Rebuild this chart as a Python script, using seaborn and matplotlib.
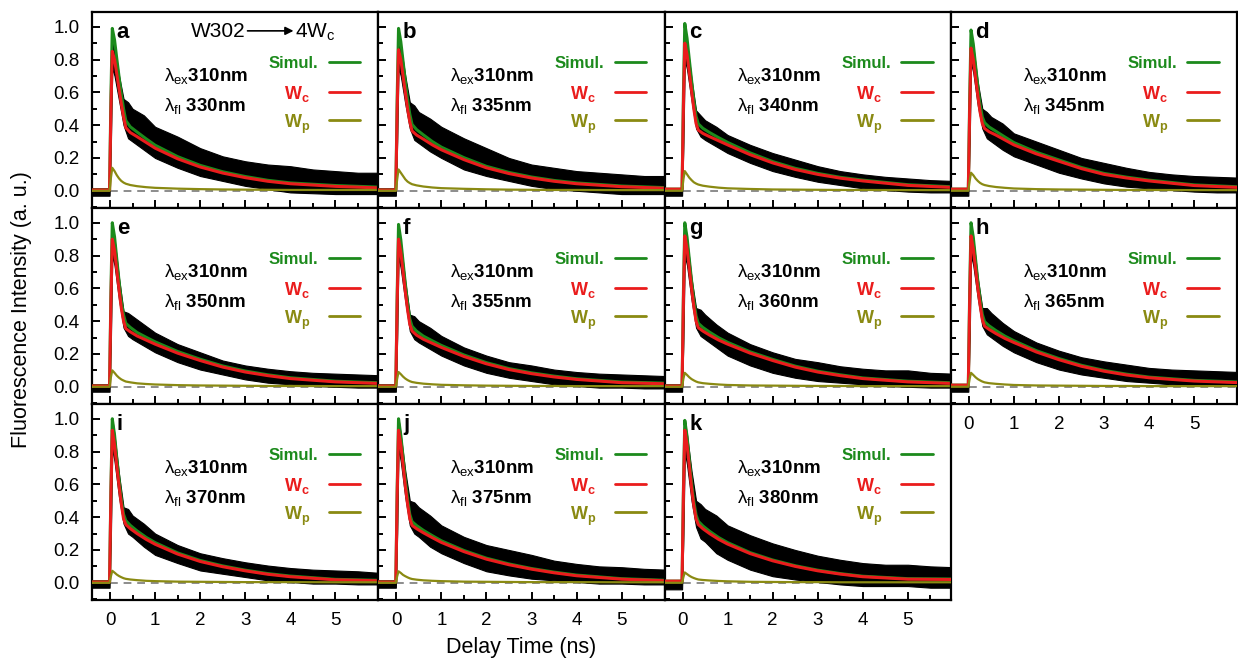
import matplotlib
matplotlib.use("Agg")
import matplotlib.pyplot as plt
from matplotlib.ticker import MultipleLocator
import seaborn as sns

sns.set_theme(style="ticks")
plt.rcParams.update({
    'mathtext.fontset': 'custom',
    'mathtext.rm': 'Liberation Sans',
    'mathtext.bf': 'Liberation Sans:bold',
    'mathtext.it': 'Liberation Sans:italic',
    'axes.linewidth': 1.6,
    'axes.edgecolor': 'black',
    'text.color': 'black',
    'axes.labelcolor': 'black',
})
plt.rcParams['font.family'] = ['Liberation Sans', 'DejaVu Sans']

GREEN = '#1c8a1c'
RED = '#ea1c1c'
OLIVE = '#8a8a12'

PANELS = ['a', 'b', 'c', 'd', 'e', 'f', 'g', 'h', 'i', 'j', 'k']
EMISSION = ['330', '335', '340', '345', '350', '355', '360', '365', '370', '375', '380']

# time grid of the fitted curves (ns)
T = [-0.45, -0.01, 0.02, 0.05, 0.1, 0.15, 0.2, 0.25, 0.3, 0.35, 0.45, 0.6,
     0.8, 1.0, 1.5, 2.0, 2.5, 3.0, 3.5, 4.0, 5.0, 6.0]

# Wc component (red)
WC = {
    'a': [0.005, 0.005, 0.50, 0.85, 0.80, 0.71, 0.62, 0.53, 0.45, 0.385, 0.355, 0.33, 0.295, 0.26, 0.195, 0.145, 0.108, 0.08, 0.058, 0.043, 0.027, 0.017],
    'b': [0.005, 0.005, 0.50, 0.86, 0.80, 0.70, 0.60, 0.50, 0.42, 0.365, 0.34, 0.315, 0.28, 0.25, 0.19, 0.14, 0.105, 0.078, 0.058, 0.043, 0.025, 0.015],
    'c': [0.01, 0.01, 0.52, 0.90, 0.83, 0.72, 0.61, 0.50, 0.41, 0.37, 0.35, 0.33, 0.305, 0.28, 0.22, 0.17, 0.13, 0.10, 0.077, 0.06, 0.033, 0.02],
    'd': [0.01, 0.01, 0.50, 0.87, 0.80, 0.69, 0.58, 0.48, 0.41, 0.38, 0.36, 0.34, 0.31, 0.28, 0.225, 0.18, 0.135, 0.10, 0.078, 0.06, 0.032, 0.02],
    'e': [0.005, 0.005, 0.52, 0.90, 0.83, 0.71, 0.59, 0.48, 0.40, 0.355, 0.335, 0.31, 0.285, 0.26, 0.205, 0.16, 0.12, 0.09, 0.068, 0.05, 0.03, 0.02],
    'f': [0.005, 0.005, 0.52, 0.90, 0.82, 0.70, 0.58, 0.47, 0.38, 0.34, 0.315, 0.29, 0.265, 0.24, 0.185, 0.14, 0.105, 0.08, 0.06, 0.045, 0.025, 0.018],
    'g': [0.005, 0.005, 0.53, 0.92, 0.84, 0.72, 0.60, 0.49, 0.40, 0.36, 0.34, 0.315, 0.285, 0.26, 0.205, 0.16, 0.12, 0.09, 0.068, 0.05, 0.03, 0.02],
    'h': [0.01, 0.01, 0.53, 0.92, 0.84, 0.72, 0.60, 0.50, 0.41, 0.37, 0.35, 0.325, 0.295, 0.27, 0.212, 0.165, 0.125, 0.095, 0.072, 0.055, 0.035, 0.025],
    'i': [0.005, 0.005, 0.54, 0.93, 0.84, 0.71, 0.59, 0.48, 0.39, 0.355, 0.33, 0.30, 0.265, 0.235, 0.175, 0.13, 0.098, 0.073, 0.052, 0.037, 0.018, 0.012],
    'j': [0.005, 0.005, 0.54, 0.93, 0.84, 0.72, 0.59, 0.48, 0.39, 0.35, 0.33, 0.305, 0.275, 0.246, 0.19, 0.144, 0.11, 0.083, 0.061, 0.043, 0.022, 0.012],
    'k': [0.01, 0.01, 0.54, 0.93, 0.84, 0.71, 0.58, 0.47, 0.39, 0.355, 0.33, 0.30, 0.265, 0.236, 0.178, 0.134, 0.10, 0.073, 0.053, 0.037, 0.022, 0.02],
}

# Wp component (olive)
WP = {
    'a': [0.0, 0.0, 0.08, 0.14, 0.12, 0.095, 0.075, 0.06, 0.05, 0.043, 0.035, 0.028, 0.022, 0.018, 0.013, 0.010, 0.008, 0.007, 0.006, 0.005, 0.005, 0.005],
    'b': [0.0, 0.0, 0.07, 0.13, 0.11, 0.09, 0.07, 0.056, 0.047, 0.04, 0.033, 0.026, 0.02, 0.016, 0.012, 0.009, 0.007, 0.006, 0.005, 0.005, 0.004, 0.004],
    'c': [0.0, 0.0, 0.07, 0.12, 0.10, 0.08, 0.065, 0.052, 0.044, 0.038, 0.031, 0.025, 0.019, 0.015, 0.011, 0.008, 0.007, 0.006, 0.005, 0.005, 0.004, 0.004],
    'd': [0.0, 0.0, 0.06, 0.11, 0.095, 0.075, 0.06, 0.048, 0.04, 0.035, 0.029, 0.023, 0.018, 0.014, 0.01, 0.008, 0.007, 0.006, 0.005, 0.005, 0.004, 0.004],
    'e': [0.0, 0.0, 0.06, 0.10, 0.085, 0.068, 0.055, 0.045, 0.038, 0.032, 0.027, 0.021, 0.017, 0.014, 0.01, 0.008, 0.007, 0.006, 0.005, 0.005, 0.004, 0.004],
    'f': [0.0, 0.0, 0.05, 0.09, 0.077, 0.062, 0.05, 0.041, 0.034, 0.029, 0.024, 0.019, 0.015, 0.012, 0.009, 0.007, 0.006, 0.005, 0.005, 0.004, 0.004, 0.004],
    'g': [0.0, 0.0, 0.05, 0.085, 0.072, 0.058, 0.047, 0.039, 0.032, 0.027, 0.022, 0.018, 0.014, 0.011, 0.008, 0.007, 0.006, 0.005, 0.005, 0.004, 0.004, 0.004],
    'h': [0.0, 0.0, 0.05, 0.085, 0.072, 0.058, 0.047, 0.039, 0.032, 0.027, 0.022, 0.018, 0.014, 0.011, 0.008, 0.007, 0.006, 0.005, 0.005, 0.004, 0.004, 0.004],
    'i': [0.0, 0.0, 0.04, 0.073, 0.062, 0.05, 0.041, 0.034, 0.028, 0.024, 0.02, 0.016, 0.012, 0.01, 0.007, 0.006, 0.005, 0.004, 0.004, 0.004, 0.003, 0.003],
    'j': [0.0, 0.0, 0.04, 0.07, 0.06, 0.048, 0.04, 0.033, 0.027, 0.023, 0.019, 0.015, 0.012, 0.01, 0.007, 0.006, 0.005, 0.004, 0.004, 0.004, 0.003, 0.003],
    'k': [0.0, 0.0, 0.035, 0.063, 0.053, 0.043, 0.035, 0.029, 0.024, 0.02, 0.017, 0.014, 0.011, 0.009, 0.006, 0.005, 0.004, 0.004, 0.003, 0.003, 0.003, 0.003],
}

# simulated total (green)
SIMUL = {
    'a': [0.005, 0.005, 0.58, 0.99, 0.92, 0.805, 0.695, 0.59, 0.50, 0.428, 0.39, 0.358, 0.317, 0.278, 0.208, 0.155, 0.116, 0.087, 0.064, 0.048, 0.032, 0.022],
    'b': [0.005, 0.005, 0.57, 0.99, 0.91, 0.79, 0.67, 0.556, 0.467, 0.405, 0.373, 0.341, 0.30, 0.266, 0.202, 0.149, 0.112, 0.084, 0.063, 0.048, 0.029, 0.019],
    'c': [0.01, 0.01, 0.59, 1.02, 0.93, 0.80, 0.675, 0.552, 0.454, 0.408, 0.381, 0.355, 0.324, 0.295, 0.231, 0.178, 0.137, 0.106, 0.082, 0.065, 0.037, 0.024],
    'd': [0.01, 0.01, 0.56, 0.98, 0.895, 0.765, 0.64, 0.528, 0.45, 0.415, 0.389, 0.363, 0.328, 0.294, 0.235, 0.188, 0.142, 0.106, 0.083, 0.065, 0.036, 0.024],
    'e': [0.005, 0.005, 0.58, 1.0, 0.915, 0.778, 0.645, 0.525, 0.438, 0.387, 0.362, 0.331, 0.302, 0.274, 0.215, 0.168, 0.127, 0.096, 0.073, 0.055, 0.034, 0.024],
    'f': [0.005, 0.005, 0.57, 0.99, 0.897, 0.762, 0.63, 0.511, 0.414, 0.369, 0.339, 0.309, 0.28, 0.252, 0.194, 0.147, 0.111, 0.085, 0.065, 0.049, 0.029, 0.022],
    'g': [0.005, 0.005, 0.58, 1.0, 0.912, 0.778, 0.647, 0.529, 0.432, 0.387, 0.362, 0.333, 0.299, 0.271, 0.213, 0.167, 0.126, 0.095, 0.073, 0.054, 0.034, 0.024],
    'h': [0.01, 0.01, 0.58, 1.0, 0.912, 0.778, 0.647, 0.539, 0.442, 0.397, 0.372, 0.343, 0.309, 0.281, 0.22, 0.172, 0.131, 0.1, 0.077, 0.059, 0.039, 0.029],
    'i': [0.005, 0.005, 0.58, 1.0, 0.902, 0.76, 0.631, 0.514, 0.418, 0.379, 0.35, 0.316, 0.277, 0.245, 0.182, 0.136, 0.103, 0.077, 0.056, 0.041, 0.021, 0.015],
    'j': [0.005, 0.005, 0.58, 1.0, 0.90, 0.768, 0.63, 0.513, 0.417, 0.373, 0.349, 0.32, 0.287, 0.256, 0.197, 0.15, 0.115, 0.087, 0.065, 0.047, 0.025, 0.015],
    'k': [0.01, 0.01, 0.575, 0.99, 0.893, 0.753, 0.615, 0.499, 0.414, 0.375, 0.347, 0.314, 0.276, 0.245, 0.184, 0.139, 0.104, 0.077, 0.056, 0.04, 0.025, 0.023],
}

# measured trace: upper / lower edge of the noise band
TD = [-0.45, -0.01, 0.02, 0.05, 0.1, 0.2, 0.3, 0.4, 0.5, 0.75, 1.0, 1.5, 2.0,
      2.5, 3.0, 3.5, 4.0, 4.5, 5.0, 5.5, 6.0]
DATA_HI = {
    'a': [0.015, 0.015, 0.55, 0.95, 0.88, 0.70, 0.56, 0.54, 0.50, 0.46, 0.39, 0.33, 0.26, 0.21, 0.18, 0.16, 0.15, 0.13, 0.12, 0.11, 0.11],
    'b': [0.015, 0.015, 0.55, 0.95, 0.88, 0.70, 0.54, 0.52, 0.48, 0.44, 0.39, 0.32, 0.26, 0.20, 0.16, 0.14, 0.12, 0.11, 0.10, 0.09, 0.09],
    'c': [0.015, 0.015, 0.55, 0.98, 0.90, 0.68, 0.49, 0.46, 0.43, 0.39, 0.34, 0.28, 0.23, 0.19, 0.15, 0.12, 0.10, 0.085, 0.075, 0.065, 0.06],
    'd': [0.015, 0.015, 0.55, 0.95, 0.88, 0.66, 0.50, 0.48, 0.45, 0.41, 0.35, 0.30, 0.25, 0.20, 0.17, 0.14, 0.115, 0.10, 0.09, 0.085, 0.08],
    'e': [0.015, 0.015, 0.55, 0.98, 0.90, 0.66, 0.46, 0.45, 0.43, 0.38, 0.33, 0.26, 0.21, 0.16, 0.13, 0.11, 0.095, 0.085, 0.08, 0.075, 0.07],
    'f': [0.015, 0.015, 0.55, 0.97, 0.88, 0.64, 0.44, 0.43, 0.40, 0.36, 0.31, 0.24, 0.19, 0.15, 0.13, 0.105, 0.09, 0.08, 0.075, 0.07, 0.065],
    'g': [0.015, 0.015, 0.55, 0.99, 0.90, 0.66, 0.48, 0.47, 0.44, 0.38, 0.33, 0.26, 0.21, 0.17, 0.15, 0.125, 0.11, 0.10, 0.10, 0.085, 0.08],
    'h': [0.015, 0.015, 0.55, 0.99, 0.90, 0.66, 0.48, 0.48, 0.45, 0.39, 0.34, 0.27, 0.22, 0.18, 0.155, 0.135, 0.115, 0.105, 0.10, 0.095, 0.09],
    'i': [0.015, 0.015, 0.56, 1.0, 0.90, 0.66, 0.46, 0.45, 0.41, 0.36, 0.30, 0.23, 0.18, 0.15, 0.125, 0.105, 0.09, 0.08, 0.075, 0.07, 0.06],
    'j': [0.015, 0.015, 0.56, 1.0, 0.90, 0.68, 0.50, 0.49, 0.46, 0.41, 0.35, 0.28, 0.23, 0.20, 0.17, 0.135, 0.115, 0.10, 0.095, 0.085, 0.08],
    'k': [0.015, 0.015, 0.56, 0.99, 0.90, 0.68, 0.50, 0.48, 0.45, 0.41, 0.35, 0.29, 0.24, 0.20, 0.165, 0.14, 0.12, 0.11, 0.11, 0.10, 0.095],
}
DATA_LO = {
    'a': [-0.03, -0.03, 0.30, 0.75, 0.70, 0.55, 0.40, 0.32, 0.30, 0.25, 0.20, 0.14, 0.09, 0.06, 0.03, 0.01, -0.01, -0.015, -0.02, -0.02, -0.02],
    'b': [-0.03, -0.03, 0.30, 0.75, 0.70, 0.53, 0.38, 0.31, 0.29, 0.24, 0.20, 0.13, 0.09, 0.06, 0.03, 0.01, 0.0, -0.01, -0.02, -0.02, -0.02],
    'c': [-0.03, -0.03, 0.30, 0.80, 0.74, 0.55, 0.38, 0.33, 0.31, 0.27, 0.23, 0.17, 0.12, 0.085, 0.055, 0.035, 0.015, 0.005, -0.005, -0.01, -0.01],
    'd': [-0.03, -0.03, 0.30, 0.78, 0.72, 0.52, 0.38, 0.32, 0.30, 0.25, 0.21, 0.16, 0.11, 0.075, 0.045, 0.025, 0.015, 0.005, -0.005, -0.01, -0.01],
    'e': [-0.03, -0.03, 0.30, 0.80, 0.74, 0.53, 0.36, 0.31, 0.29, 0.25, 0.21, 0.15, 0.105, 0.075, 0.045, 0.025, 0.015, 0.005, 0.0, -0.005, -0.005],
    'f': [-0.03, -0.03, 0.30, 0.80, 0.72, 0.52, 0.34, 0.29, 0.27, 0.23, 0.19, 0.13, 0.085, 0.055, 0.035, 0.015, 0.005, -0.005, -0.005, -0.01, -0.01],
    'g': [-0.03, -0.03, 0.30, 0.80, 0.74, 0.53, 0.36, 0.31, 0.29, 0.24, 0.19, 0.13, 0.085, 0.055, 0.035, 0.025, 0.015, 0.005, 0.0, -0.005, -0.005],
    'h': [-0.03, -0.03, 0.30, 0.80, 0.74, 0.54, 0.37, 0.32, 0.30, 0.25, 0.21, 0.15, 0.105, 0.075, 0.055, 0.035, 0.025, 0.015, 0.01, 0.005, 0.005],
    'i': [-0.03, -0.03, 0.30, 0.82, 0.74, 0.52, 0.36, 0.30, 0.28, 0.22, 0.17, 0.12, 0.075, 0.055, 0.035, 0.015, 0.005, -0.005, -0.005, -0.01, -0.01],
    'j': [-0.03, -0.03, 0.30, 0.82, 0.74, 0.52, 0.35, 0.30, 0.28, 0.22, 0.18, 0.12, 0.07, 0.045, 0.025, 0.015, 0.005, -0.005, -0.005, -0.01, -0.01],
    'k': [-0.04, -0.04, 0.30, 0.80, 0.72, 0.50, 0.34, 0.27, 0.25, 0.18, 0.14, 0.08, 0.04, 0.02, 0.005, -0.01, -0.02, -0.02, -0.02, -0.03, -0.03],
}

fig = plt.figure(figsize=(12.38, 6.65), dpi=100)
axes = fig.subplots(3, 4, sharex=True, sharey=True)
fig.subplots_adjust(left=92 / 1238, right=1237 / 1238, top=1 - 12 / 665,
                    bottom=1 - 600 / 665, wspace=0, hspace=0)

for idx, ax in enumerate(axes.flat):
    if idx >= len(PANELS):
        ax.axis('off')
        continue
    p = PANELS[idx]
    ax.set_facecolor('white')

    ax.plot([0, 6], [0, 0], ls=(0, (4, 3)), color='#8c8c8c', lw=1.4, zorder=1)
    ax.fill_between(TD, DATA_LO[p], DATA_HI[p], color='black', lw=0.8, zorder=2)
    sns.lineplot(x=T, y=SIMUL[p], ax=ax, color=GREEN, lw=2.2, zorder=3,
                 estimator=None, sort=False)
    sns.lineplot(x=T, y=WC[p], ax=ax, color=RED, lw=2.2, zorder=4,
                 estimator=None, sort=False)
    sns.lineplot(x=T, y=WP[p], ax=ax, color=OLIVE, lw=1.6, zorder=5,
                 estimator=None, sort=False)

    # panel letter and wavelengths
    ax.text(0.15, 0.93, p, fontsize=16, fontweight='bold', va='baseline', zorder=6)
    ax.text(1.2, 0.668, r'$\mathrm{\lambda}_{\mathrm{ex}}\mathbf{310nm}$',
            fontsize=13.5, va='baseline', zorder=6)
    ax.text(1.2, 0.485, r'$\mathrm{\lambda}_{\mathrm{fl}}\ \mathbf{' + EMISSION[idx] + 'nm}$',
            fontsize=13.5, va='baseline', zorder=6)

    # legend entries
    ax.text(4.62, 0.748, 'Simul.', color=GREEN, fontsize=12, fontweight='bold',
            ha='right', va='baseline')
    ax.text(3.85, 0.56, r'$\mathbf{W}_{\mathbf{c}}$', color=RED, fontsize=13,
            va='baseline')
    ax.text(3.85, 0.384, r'$\mathbf{W}_{\mathbf{p}}$', color=OLIVE, fontsize=13,
            va='baseline')
    ax.plot([4.85, 5.55], [0.785, 0.785], color=GREEN, lw=2)
    ax.plot([4.85, 5.55], [0.605, 0.605], color=RED, lw=2)
    ax.plot([4.85, 5.55], [0.43, 0.43], color=OLIVE, lw=2)

    ax.set_xlim(-0.4, 5.95)
    ax.set_ylim(-0.105, 1.09)
    ax.xaxis.set_major_locator(MultipleLocator(1))
    ax.xaxis.set_minor_locator(MultipleLocator(0.5))
    ax.yaxis.set_major_locator(MultipleLocator(0.2))
    ax.yaxis.set_minor_locator(MultipleLocator(0.1))
    ax.tick_params(which='both', direction='in', top=False, right=False,
                   width=1.4, labelsize=13.5, colors='black')
    ax.tick_params(which='major', length=6)
    ax.tick_params(which='minor', length=3.5)
    ax.tick_params(axis='x', pad=9)
    ax.tick_params(axis='y', pad=9)
    ax.set_xlabel('')
    ax.set_ylabel('')
    for s in ax.spines.values():
        s.set_linewidth(1.6)
        s.set_color('black')

    ax.tick_params(axis='x', labelbottom=(idx >= 7))
    ax.tick_params(axis='y', labelleft=(idx % 4 == 0))

# reaction label of panel a
ax0 = axes[0, 0]
ax0.text(3.0, 0.935, 'W302', fontsize=15, ha='right', va='baseline')
ax0.annotate('', xy=(4.07, 0.975), xytext=(3.05, 0.975),
             arrowprops=dict(arrowstyle='-|>', color='black', lw=1.2,
                             mutation_scale=12, shrinkA=0, shrinkB=0))
ax0.text(4.1, 0.935, r'4W$_{\mathrm{c}}$', fontsize=15, va='baseline')

fig.text(0.017, 1 - 310 / 665, 'Fluorescence Intensity (a. u.)', rotation=90,
         fontsize=15.5, ha='center', va='center')
fig.text(521 / 1238, 1 - 647 / 665, 'Delay Time (ns)', fontsize=15.5,
         ha='center', va='center')

fig.savefig('out.png', dpi=100)
